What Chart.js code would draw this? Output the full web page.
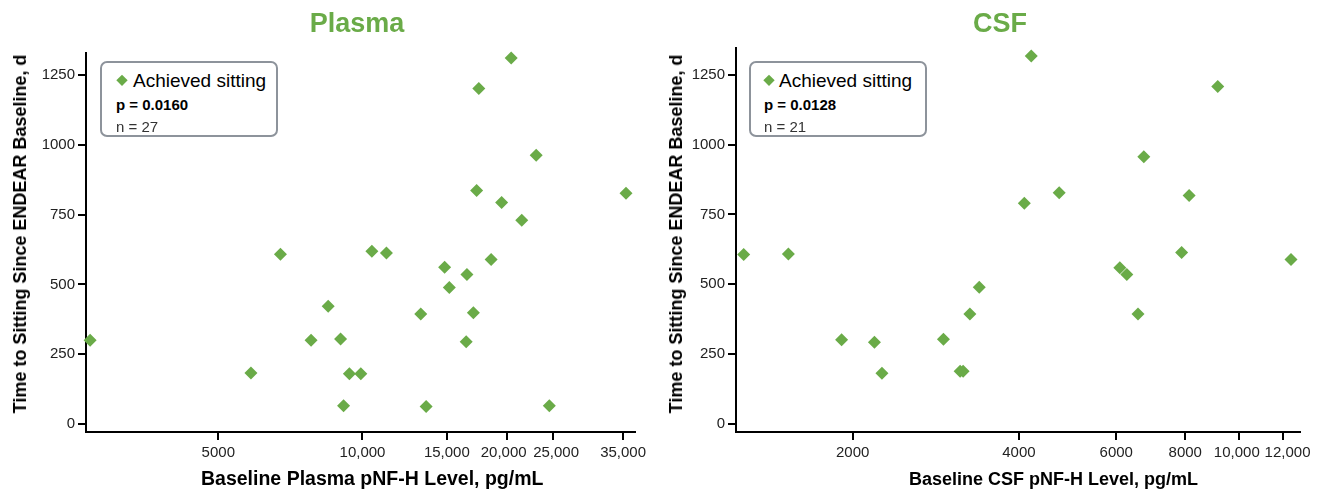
<!DOCTYPE html>
<html>
<head>
<meta charset="utf-8">
<script src="https://cdn.jsdelivr.net/npm/chart.js@4.4.1/dist/chart.umd.min.js"></script>
<style>
body { margin: 0; background: #fff; font-family: 'Liberation Sans', Arial, sans-serif; }
#wrap { position: relative; width: 1320px; height: 491px; }
canvas { position: absolute; top: 0; }
.title { position: absolute; top: 23px; transform: translate(-50%, -50%); color: #6aab48; font-weight: bold; font-size: 27px; line-height: 1; white-space: nowrap; }
.xt { position: absolute; top: 479px; transform: translateY(-50%); font-weight: bold; font-size: 19.5px; line-height: 1; white-space: nowrap; color: #000; }
.yt { position: absolute; top: 234px; transform: translate(-50%, -50%) rotate(-90deg); font-weight: bold; font-size: 18px; line-height: 1; white-space: nowrap; color: #000; }
.legend { position: absolute; box-sizing: border-box; width: 178px; height: 76px; border: 2px solid #8d939b; border-radius: 7px; background: #fff; }
.legend div { position: absolute; white-space: nowrap; line-height: 1; transform: translateY(-50%); }
.legend .dia { width: 7.5px; height: 7.5px; background: #6aab48; transform: translate(-50%, -50%) rotate(45deg); }
.lab { font-size: 19px; color: #000; }
.pv { font-size: 15px; font-weight: bold; color: #000; }
.nv { font-size: 15px; color: #333; }
</style>
</head>
<body>
<div id="wrap">
  <canvas id="plasma" width="660" height="491" style="left:0"></canvas>
  <canvas id="csf" width="660" height="491" style="left:660px"></canvas>
  <div class="title" style="left:357px">Plasma</div>
  <div class="title" style="left:1000px">CSF</div>
  <div class="yt" style="left:20px">Time to Sitting Since ENDEAR Baseline, d</div>
  <div class="yt" style="left:676px">Time to Sitting Since ENDEAR Baseline, d</div>
  <div class="xt" style="left:201px">Baseline Plasma pNF-H Level, pg/mL</div>
  <div class="xt" style="left:909px;font-size:18px">Baseline CSF pNF-H Level, pg/mL</div>
  <div class="legend" style="left:100px;top:61px">
    <div class="dia" style="left:20px;top:17px"></div>
    <div class="lab" style="left:31px;top:17px">Achieved sitting</div>
    <div class="pv" style="left:14px;top:41px">p = 0.0160</div>
    <div class="nv" style="left:14px;top:63px">n = 27</div>
  </div>
  <div class="legend" style="left:749px;top:61px">
    <div class="dia" style="left:18px;top:17px"></div>
    <div class="lab" style="left:28px;top:17px">Achieved sitting</div>
    <div class="pv" style="left:13px;top:41px">p = 0.0128</div>
    <div class="nv" style="left:13px;top:63px">n = 21</div>
  </div>
</div>
<script>
// 혈장 pNF-H (pg/mL) 과 앉기 달성까지 걸린 일수
const plasmaLevel = [2700, 5850, 6740, 7810, 8480, 9000, 9130, 9390, 9920, 10460, 11220, 13230, 13580, 14840,
	15180, 16460, 16520, 17040, 17310, 17490, 18560, 19520, 20440, 21500, 23050, 24550, 35490];
const plasmaDays = [300, 183, 608, 300, 422, 304, 65, 180, 180, 619, 612, 394, 63, 561,
	489, 295, 535, 398, 836, 1201, 589, 793, 1311, 730, 962, 65, 826];

// 뇌척수액 pNF-H
const csfLevel = [1270, 1530, 1910, 2190, 2260, 2920, 3130, 3170, 3260, 3390, 4090, 4210, 4730, 6090,
	6270, 6570, 6730, 7880, 8130, 9160, 12430];
const csfDays = [607, 609, 302, 293, 182, 303, 189, 189, 394, 490, 790, 1317, 828, 559,
	535, 394, 957, 614, 818, 1208, 589];

const plasmaTicks = [5000, 10000, 15000, 20000, 25000, 35000];
const csfTicks = [2000, 4000, 6000, 8000, 10000, 12000];
const dayTicks = [0, 250, 500, 750, 1000, 1250];

const green = '#6aab48';
const fontName = "'Liberation Sans', Arial, sans-serif";

function tickText(v) {
	return v >= 10000 ? v.toLocaleString('en-US') : String(v);
}

// 붙어있는 x축 라벨을 조금씩 옆으로 민다
const nudgeLabels = {
	id: 'nudgeLabels',
	afterUpdate(chart, args, opts) {
		const items = chart.scales.x.getLabelItems(chart.chartArea);
		items.forEach((it, i) => { it.options.translation[0] += (opts.shift[i] || 0); });
	}
};

function makeChart(id, xs, ys, xTicks, xMin, xMax, yMax, top, leftW, right, shift) {
	new Chart(document.getElementById(id), {
		type: 'scatter',
		data: {
			datasets: [{
				data: xs.map((x, i) => ({ x: x, y: ys[i] })),
				pointStyle: 'rectRot',
				pointRadius: 6.5,
				pointHoverRadius: 6.5,
				backgroundColor: green,
				borderWidth: 0,
				clip: false
			}]
		},
		plugins: [nudgeLabels],
		options: {
			responsive: false,
			animation: false,
			devicePixelRatio: 1,
			layout: { padding: { top: top, right: right, left: 0, bottom: 0 } },
			plugins: { legend: { display: false }, tooltip: { enabled: false }, nudgeLabels: { shift: shift } },
			scales: {
				x: {
					type: 'logarithmic',
					min: xMin,
					max: xMax,
					afterBuildTicks: s => { s.ticks = xTicks.map(v => ({ value: v })); },
					afterFit: s => { s.height = 59; },
					grid: { drawOnChartArea: false, drawTicks: true, tickLength: 8, lineWidth: 2, color: '#000' },
					border: { display: true, color: '#000', width: 2 },
					ticks: {
						autoSkip: false, maxRotation: 0, padding: 4, color: '#222',
						font: { family: fontName, size: 15 },
						callback: v => tickText(v)
					}
				},
				y: {
					min: -28.6,
					max: yMax,
					afterBuildTicks: s => { s.ticks = dayTicks.map(v => ({ value: v })); },
					afterFit: s => { s.width = leftW; },
					grid: { drawOnChartArea: false, drawTicks: true, tickLength: 8, lineWidth: 2, color: '#000' },
					border: { display: true, color: '#000', width: 2 },
					ticks: {
						padding: 3, color: '#222',
						font: { family: fontName, size: 15 },
						callback: v => String(v)
					}
				}
			}
		}
	});
}

makeChart('plasma', plasmaLevel, plasmaDays, plasmaTicks, 2647, 37060, 1328.5, 53, 86, 25, [0, 0, 0, -3, 3, 0]);
makeChart('csf', csfLevel, csfDays, csfTicks, 1230, 12905, 1346, 48, 76, 20, [0, 0, 0, 0, -2, 5]);
</script>
</body>
</html>
